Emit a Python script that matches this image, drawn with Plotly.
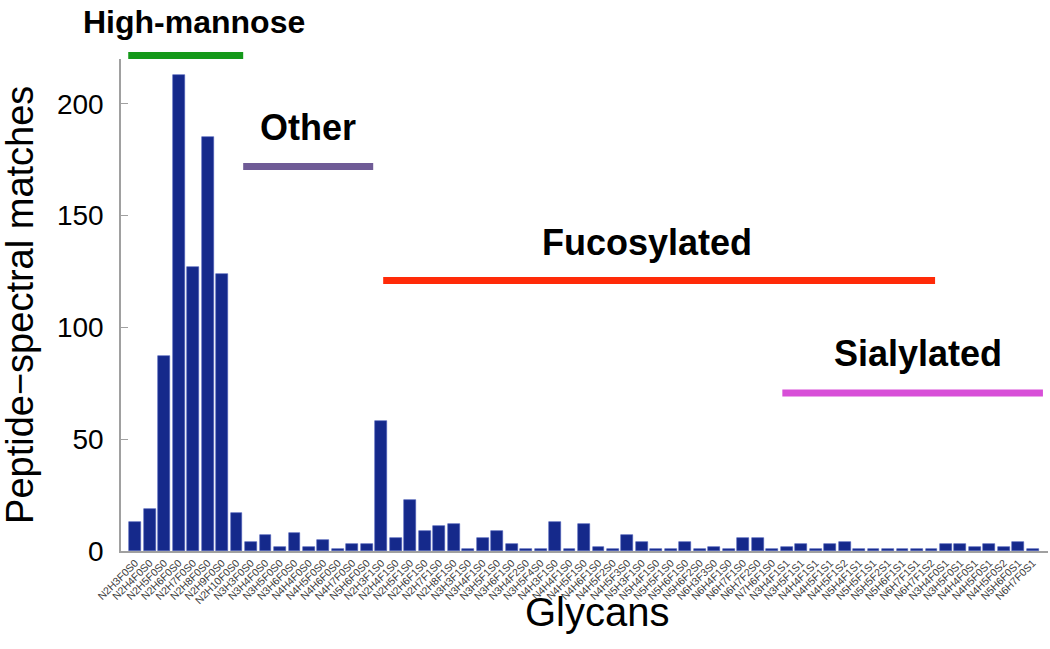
import plotly.graph_objects as go

glycans = [
    "N2H3F0S0", "N2H4F0S0", "N2H5F0S0", "N2H6F0S0", "N2H7F0S0", "N2H8F0S0", "N2H9F0S0", "N2H10F0S0",
    "N3H3F0S0", "N3H4F0S0", "N3H5F0S0", "N3H6F0S0", "N4H4F0S0", "N4H5F0S0", "N4H6F0S0", "N4H7F0S0", "N5H6F0S0",
    "N2H3F1S0", "N2H4F1S0", "N2H5F1S0", "N2H6F1S0", "N2H7F1S0", "N2H8F1S0", "N3H3F1S0", "N3H4F1S0",
    "N3H5F1S0", "N3H6F1S0", "N3H4F2S0", "N3H5F4S0", "N4H3F1S0", "N4H4F1S0", "N4H5F1S0", "N4H6F1S0",
    "N4H5F2S0", "N4H5F3S0", "N5H3F1S0", "N5H4F1S0", "N5H5F1S0", "N5H6F1S0", "N5H6F2S0", "N6H3F3S0",
    "N6H4F1S0", "N6H7F1S0", "N6H7F2S0", "N7H6F1S0",
    "N3H4F1S1", "N3H5F1S1", "N4H4F1S1", "N4H5F1S1", "N4H5F1S2", "N5H4F1S1", "N5H5F1S1", "N5H5F2S1",
    "N5H6F1S1", "N6H7F1S1", "N6H7F1S2",
    "N3H4F0S1", "N3H5F0S1", "N4H4F0S1", "N4H5F0S1", "N4H5F0S2", "N5H6F0S1", "N6H7F0S1",
]

matches = [
    13, 19, 87, 213, 127, 185, 124, 17,
    4, 7, 2, 8, 2, 5, 1, 3, 3,
    58, 6, 23, 9, 11, 12, 1, 6,
    9, 3, 1, 1, 13, 1, 12, 2,
    1, 7, 4, 1, 1, 4, 1, 2,
    1, 6, 6, 1,
    2, 3, 1, 3, 4, 1, 1, 1,
    1, 1, 1,
    3, 3, 2, 3, 2, 4, 1,
]

y_ticks = [0, 50, 100, 150, 200]
Y_MAX = 220

# glycan groups: name, first bar index, last bar index, bar level, colour
group_names = ["High-mannose", "Other", "Fucosylated", "Sialylated"]
group_first = [0, 8, 17, 45]
group_last = [7, 16, 55, 62]
group_level = [221.6, 171.9, 120.9, 70.7]
group_label_level = [236.5, 189.5, 138, 88.5]
group_colors = ["#14991a", "#6f5b96", "#ff2a08", "#d84fd8"]

# styling offsets (category units) for line ends and label centring
line_pad_left = [0.48, 0.54, -0.13, 0.3]
line_pad_right = [0.46, 0.44, 0.25, 0.7]
label_dx = [0.6, 0.0, -0.85, 0.4]
label_size = [32, 36, 36, 36]

FONT = "Liberation Sans, Arial, Helvetica"
x_idx = list(range(len(glycans)))

fig = go.Figure()
fig.add_trace(go.Bar(
    x=x_idx, y=matches, width=0.82,
    marker=dict(color="#15298b", line=dict(color="#4a5cb8", width=0.6)),
    customdata=glycans, hovertemplate="%{customdata}: %{y}<extra></extra>",
))

shapes = []
annotations = []
for i, name in enumerate(group_names):
    x0 = group_first[i] - line_pad_left[i]
    x1 = group_last[i] + line_pad_right[i]
    yv = group_level[i] / Y_MAX
    shapes.append(dict(type="line", xref="x", yref="paper", x0=x0, x1=x1, y0=yv, y1=yv,
                       line=dict(color=group_colors[i], width=7)))
    annotations.append(dict(x=(x0 + x1) / 2 + label_dx[i], y=group_label_level[i] / Y_MAX,
                            xref="x", yref="paper", xanchor="center", yanchor="middle",
                            text="<b>%s</b>" % name, showarrow=False,
                            font=dict(family=FONT, size=label_size[i], color="black")))

annotations.append(dict(x=0.514, y=-0.075, xref="paper", yref="paper", xanchor="center", yanchor="top",
                        text="Glycans", showarrow=False,
                        font=dict(family=FONT, size=40, color="black")))
annotations.append(dict(x=-0.109, y=0.5, xref="paper", yref="paper", xanchor="center", yanchor="middle",
                        text="Peptide\u2212spectral matches", textangle=-90, showarrow=False,
                        font=dict(family=FONT, size=38, color="black")))

fig.update_layout(
    width=1050, height=649,
    margin=dict(l=121, r=2, t=59, b=98),
    paper_bgcolor="white", plot_bgcolor="white",
    showlegend=False,
    shapes=shapes,
    annotations=annotations,
    bargap=0,
)
fig.update_xaxes(
    range=[-0.98, 63.05],
    tickmode="array", tickvals=x_idx, ticktext=glycans,
    tickangle=-45, tickfont=dict(family=FONT, size=10.5, color="#3a3a3a"),
    showline=True, linecolor="#a0a0a0", linewidth=1.5,
    ticks="", showgrid=False, zeroline=False,
)
fig.update_yaxes(
    range=[0, Y_MAX],
    tickvals=y_ticks,
    tickfont=dict(family=FONT, size=28, color="black"),
    ticklabelstandoff=10,
    showline=True, linecolor="#a0a0a0", linewidth=1.5,
    ticks="inside", ticklen=7, tickcolor="#a0a0a0",
    showgrid=False, zeroline=False,
)

fig.write_html("out.html", config={"displayModeBar": False},
               post_script="document.body.style.margin='0';")
